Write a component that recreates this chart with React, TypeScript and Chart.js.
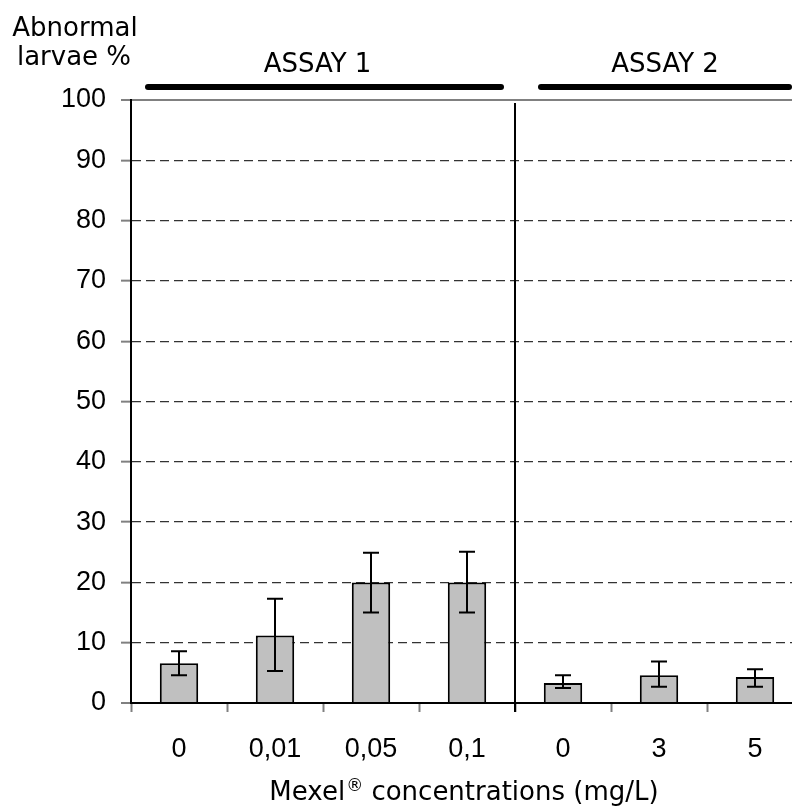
import React, { useEffect, useRef } from 'react';
import { Chart, registerables } from 'chart.js';

Chart.register(...registerables);

// ---- data ----
const categories = ['0', '0,01', '0,05', '0,1', '0', '3', '5'];
const meanValues = [6.6, 11.2, 20.0, 20.0, 3.3, 4.6, 4.3];
const errorLow = [4.6, 5.3, 15.0, 15.0, 2.5, 2.7, 2.7];
const errorHigh = [8.6, 17.3, 24.9, 25.1, 4.6, 6.9, 5.6];
const groupLabels = ['ASSAY 1', 'ASSAY 2'];
const groupSizes = [4, 3];
const yMin = 0;
const yMax = 100;
const yStep = 10;
const yTitleLines = ['Abnormal', 'larvae %'];
const xTitleParts = ['Mexel', '®', ' concentrations (mg/L)'];

const VERDANA = "'DejaVu Sans', Verdana, sans-serif";
const ARIAL = "'Liberation Sans', Arial, sans-serif";

const overlayPlugin = {
  id: 'overlay',
  afterDatasetsDraw(chart: any) {
    const ctx = chart.ctx;
    const xs = chart.scales.x;
    const ys = chart.scales.y;
    const area = chart.chartArea;
    const meta = chart.getDatasetMeta(0);
    ctx.save();
    ctx.strokeStyle = '#000';
    ctx.lineWidth = 2;
    meta.data.forEach((bar: any, i: number) => {
      const cx = bar.x;
      const t = ys.getPixelForValue(errorHigh[i]);
      const b = ys.getPixelForValue(errorLow[i]);
      ctx.beginPath();
      ctx.moveTo(cx, t);
      ctx.lineTo(cx, b);
      ctx.moveTo(cx - 8, t);
      ctx.lineTo(cx + 8, t);
      ctx.moveTo(cx - 8, b);
      ctx.lineTo(cx + 8, b);
      ctx.stroke();
    });
    // separators between groups
    let idx = 0;
    for (let g = 0; g < groupSizes.length - 1; g++) {
      idx += groupSizes[g];
      const sx = Math.round(xs.getPixelForValue(idx - 0.5));
      ctx.beginPath();
      ctx.moveTo(sx, area.top + 3);
      ctx.lineTo(sx, area.bottom + 9);
      ctx.stroke();
    }
    ctx.restore();
  },
  afterDraw(chart: any) {
    const ctx = chart.ctx;
    const xs = chart.scales.x;
    ctx.save();
    // group headers
    const insets = [
      [17, 14, -7],
      [26, 14, 0],
    ];
    let start = 0;
    groupSizes.forEach((n, g) => {
      const l = xs.getPixelForValue(start - 0.5) + insets[g][0];
      const r = xs.getPixelForValue(start + n - 0.5) - insets[g][1];
      ctx.strokeStyle = '#000';
      ctx.lineWidth = 6;
      ctx.lineCap = 'round';
      ctx.beginPath();
      ctx.moveTo(l, 87);
      ctx.lineTo(r, 87);
      ctx.stroke();
      ctx.fillStyle = '#000';
      ctx.font = `26px ${VERDANA}`;
      ctx.textAlign = 'center';
      ctx.textBaseline = 'alphabetic';
      ctx.fillText(groupLabels[g], (l + r) / 2 + insets[g][2], 72);
      start += n;
    });
    // y title
    ctx.font = `26px ${VERDANA}`;
    ctx.textAlign = 'center';
    ctx.fillStyle = '#000';
    ctx.fillText(yTitleLines[0], 75, 36);
    ctx.fillText(yTitleLines[1], 74, 65);
    // x title with superscript ®
    const big = `26px ${VERDANA}`;
    const small = `17px ${VERDANA}`;
    ctx.textAlign = 'left';
    ctx.font = big;
    const w0 = ctx.measureText(xTitleParts[0]).width;
    const w2 = ctx.measureText(xTitleParts[2]).width;
    ctx.font = small;
    const w1 = ctx.measureText(xTitleParts[1]).width + 1;
    const total = w0 + w1 + w2;
    const cx = (chart.chartArea.left + chart.chartArea.right) / 2 - 3;
    let tx = cx - total / 2;
    const base = 800;
    ctx.font = big;
    ctx.fillText(xTitleParts[0], tx, base);
    tx += w0;
    ctx.font = small;
    ctx.fillText(xTitleParts[1], tx + 1, base - 9);
    tx += w1;
    ctx.font = big;
    ctx.fillText(xTitleParts[2], tx, base);
    ctx.restore();
  },
};

export default function App() {
  const ref = useRef<HTMLCanvasElement>(null);
  useEffect(() => {
    if (!ref.current) return;
    const chart = new Chart(ref.current, {
      type: 'bar',
      data: {
        labels: categories,
        datasets: [
          {
            data: meanValues,
            backgroundColor: '#c0c0c0',
            borderColor: '#000',
            borderWidth: 2,
            barPercentage: 0.4,
            categoryPercentage: 1.0,
          },
        ],
      },
      options: {
        animation: false,
        responsive: false,
        devicePixelRatio: 1,
        layout: { padding: { top: 100, right: 0, bottom: 0, left: 0 } },
        plugins: { legend: { display: false }, tooltip: { enabled: false } },
        scales: {
          x: {
            afterFit: (s: any) => {
              s.height = 106;
            },
            grid: {
              display: true,
              drawOnChartArea: false,
              drawTicks: true,
              tickLength: 9,
              color: '#808080',
              tickColor: '#808080',
              tickWidth: 2,
              offset: true,
            },
            border: { display: true, color: '#000', width: 2 },
            ticks: {
              color: '#000',
              font: { family: ARIAL, size: 27 },
              padding: 21,
              maxRotation: 0,
              autoSkip: false,
            },
          },
          y: {
            min: yMin,
            max: yMax,
            afterFit: (s: any) => {
              s.width = 131;
            },
            grid: {
              display: true,
              drawOnChartArea: true,
              drawTicks: true,
              tickLength: 10,
              tickColor: '#808080',
              tickWidth: 2,
              tickBorderDash: [],
              color: (c: any) =>
                c.tick && c.tick.value === yMax ? '#808080' : c.tick && c.tick.value === yMin ? '#000' : '#333',
              lineWidth: (c: any) => (c.tick && (c.tick.value === yMax || c.tick.value === yMin) ? 2 : 1.3),
            },
            border: {
              display: true,
              color: '#000',
              width: 2,
              dash: (c: any) =>
                c.tick && c.tick.value !== yMax && c.tick.value !== yMin ? [9, 5] : [],
            },
            ticks: {
              stepSize: yStep,
              color: '#000',
              font: { family: ARIAL, size: 27 },
              padding: 15,
            },
          },
        },
      },
      plugins: [overlayPlugin],
    } as any);
    return () => chart.destroy();
  }, []);
  return (
    <div
      style={{
        position: 'absolute',
        left: 0,
        top: 0,
        width: 792,
        height: 809,
        overflow: 'hidden',
        background: '#fff',
      }}
    >
      <canvas ref={ref} width={803} height={809} style={{ display: 'block' }} />
    </div>
  );
}
